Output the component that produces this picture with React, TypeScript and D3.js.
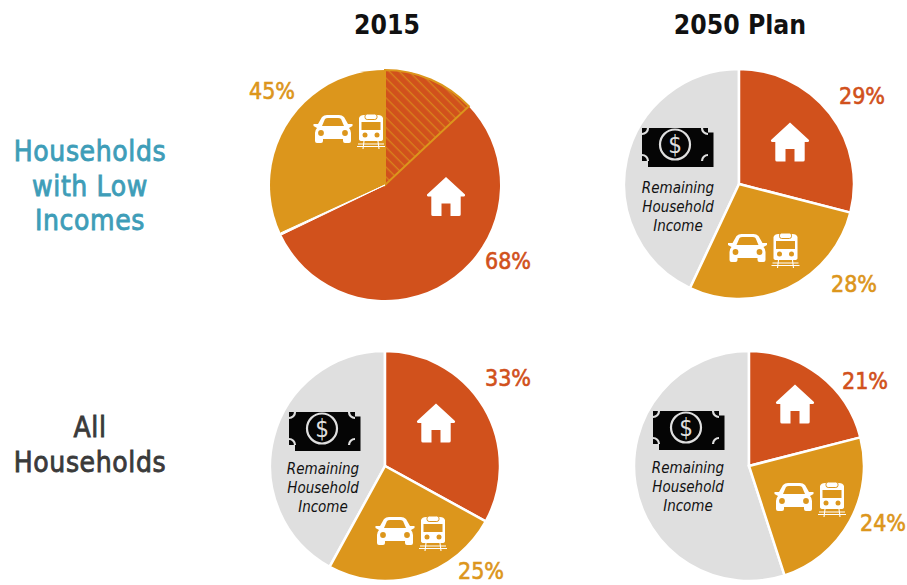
import React from "react";
import * as d3 from "d3";

const W = 907, H = 585;
const RED = "#D1511C", GOLD = "#DC961C", GREY = "#DFDFDF";
const titles = ["2015", "2050 Plan"];
const rowLabels = [["Households", "with Low", "Incomes"], ["All", "Households"]];
const housing = [68, 29, 33, 21];
const transport = [45, 28, 25, 24];
const overlap = [13, 0, 0, 0];
const centerX = [385, 739, 385, 749];
const centerY = [185, 184, 466, 466];
const remainingLines = ["Remaining", "Household", "Income"];
const R = 115;

const Font = "'DejaVu Sans Condensed', 'DejaVu Sans', sans-serif";

const angle = d3.scaleLinear().domain([0, 100]).range([0, 2 * Math.PI]);
const arc = d3.arc<{ a: number; b: number }>()
  .innerRadius(0).outerRadius(R)
  .startAngle(d => angle(d.a)).endAngle(d => angle(d.b));

function House({ x, y }: { x: number; y: number }) {
  return (
    <g transform={`translate(${x},${y})`} fill="#fff">
      <path d="M0,-19.5 L19,-2 Q19.5,0 17,0 L14.7,0 L14.7,18 Q14.7,19.5 13,19.5 L4.5,19.5 L4.5,7 L-4.5,7 L-4.5,19.5 L-13,19.5 Q-14.7,19.5 -14.7,18 L-14.7,0 L-17,0 Q-19.5,0 -19,-2 Z" />
    </g>
  );
}

function CarTrain({ x, y }: { x: number; y: number }) {
  return (
    <g transform={`translate(${x},${y})`}>
      <path fill="#fff" d="M-19.5,-5 L-15,-5 L-11,-12 Q-9,-14 -6,-14 L6,-14 Q9,-14 11,-12 L15,-5 L19.5,-5 L19.5,-3 L16,-1 Q18,1 18,4 L18,12 Q18,14 16,14 L12,14 Q10,14 10,12 L10,10 L-10,10 L-10,12 Q-10,14 -12,14 L-16,14 Q-18,14 -18,12 L-18,4 Q-18,1 -16,-1 L-19.5,-3 Z" />
      <path fill={GOLD} d="M-11,-3 L-8,-10 Q-7,-11 -5,-11 L5,-11 Q7,-11 8,-10 L11,-3 Z" />
      <circle cx={-12} cy={4} r={2.9} fill={GOLD} />
      <circle cx={12} cy={4} r={2.9} fill={GOLD} />
      <path fill="#fff" d="M26,-11 Q27,-14 31,-14 L45,-14 Q49,-14 50,-11 L50,10 Q50,12 47,12 L29,12 Q26,12 26,10 Z" />
      <rect x={32} y={-15} width={12} height={5.5} rx={2.2} fill="#fff" stroke={GOLD} strokeWidth={1} />
      <rect x={28.5} y={-7} width={19} height={8} fill={GOLD} />
      <circle cx={32} cy={6} r={2.5} fill={GOLD} />
      <circle cx={44} cy={6} r={2.5} fill={GOLD} />
      <path stroke="#fff" strokeWidth={1.1} d="M25,15 L51,15 M24,17.5 L52,17.5 M31,12 L30,20 M45,12 L46,20" fill="none" />
    </g>
  );
}

function Money({ x, y }: { x: number; y: number }) {
  return (
    <g transform={`translate(${x},${y})`}>
      <path fill="#050505" d="M-27,17 L33,17 L33,-11.5 L38.5,-11.5 L38.5,23 L-27,23 Z" />
      <rect x={-33} y={-16} width={66} height={33} fill="#050505" />
      <path fill="none" stroke={GREY} strokeWidth={2.2} d="M-33,-10 A6,6 0 0 0 -27,-16 M33,-10 A6,6 0 0 1 27,-16 M-33,11 A6,6 0 0 1 -27,17 M33,11 A6,6 0 0 0 27,17" />
      <circle cx={0} cy={0.5} r={15} fill="none" stroke={GREY} strokeWidth={2.2} />
      <text x={0} y={9} textAnchor="middle" fill={GREY} fontSize={24} fontFamily={Font}>$</text>
    </g>
  );
}

const labelPos = [
  [[508, 261], [272, 91]],
  [[862, 96], [854, 284]],
  [[508, 378], [481, 571]],
  [[865, 381], [883, 523]],
];
const housePos = [[446, 196.5], [790, 142], [436, 423], [795, 404]];
const carPos = [[333, 129], [747.5, 248], [395, 531], [794, 497]];
const moneyFor = [null, [675, 144], [322, 428], [686, 427]];
const textFor = [null, [678, 188], [323, 469], [688, 468]];

export default function App() {
  const rowText = (t: string, i: number, y0: number, c: string) => (
    <text key={t} x={90} y={y0 + i * 34.5} textAnchor="middle" fontFamily={Font} fontSize={28} letterSpacing={0.6} style={{ fill: c, stroke: c, strokeWidth: 0.8 }}>{t}</text>
  );
  return (
    <svg width={W} height={H} viewBox={`0 0 ${W} ${H}`} style={{ position: "absolute", left: 0, top: 0, background: "#fff" }}>
      <defs>
        <pattern id="hatch" patternUnits="userSpaceOnUse" width={7} height={7} patternTransform="rotate(45)">
          <rect width={7} height={7} fill={RED} />
          <rect width={7} height={1.3} fill={GOLD} opacity={0.7} />
        </pattern>
      </defs>
      <text x={387} y={34} textAnchor="middle" fontFamily={Font} fontWeight={700} fontSize={26.3} fill="#111">{titles[0]}</text>
      <text x={740} y={34} textAnchor="middle" fontFamily={Font} fontWeight={700} fontSize={26.3} fill="#111">{titles[1]}</text>
      {rowLabels[0].map((t, i) => rowText(t, i, 161, "#3E9DB8"))}
      {rowLabels[1].map((t, i) => rowText(t, i, 437, "#3A3A3A"))}
      {housing.map((h, i) => {
        const t = transport[i], ov = overlap[i];
        const goldStart = h, goldEnd = h + t;
        return (
          <g key={i}>
            <g transform={`translate(${centerX[i]},${centerY[i]})`}>
              {goldEnd < 100 && <path d={arc({ a: goldEnd, b: 100 })!} fill={GREY} stroke="#fff" strokeWidth={2.5} />}
              <path d={arc({ a: 0, b: h })!} fill={RED} stroke="#fff" strokeWidth={ov ? 0 : 2.5} />
              <path d={arc({ a: goldStart, b: goldEnd })!} fill={GOLD} stroke="#fff" strokeWidth={ov ? 0 : 2.5} />
              {ov > 0 && <path d={arc({ a: 0, b: ov })!} fill="url(#hatch)" stroke={GOLD} strokeWidth={2} />}
              {ov > 0 && <path d={arc({ a: goldStart - 0.15, b: goldStart + 0.15 })!} fill="#fff" stroke="#fff" strokeWidth={1} />}
            </g>
            <House x={housePos[i][0]} y={housePos[i][1]} />
            <CarTrain x={carPos[i][0]} y={carPos[i][1]} />
            {moneyFor[i] && <Money x={moneyFor[i]![0]} y={moneyFor[i]![1]} />}
            {textFor[i] && remainingLines.map((l, k) => (
              <text key={l} x={textFor[i]![0]} y={textFor[i]![1] + 5 + k * 19} textAnchor="middle" fontFamily={Font} fontStyle="italic" fontSize={15} fill="#111">{l}</text>
            ))}
            <text x={labelPos[i][0][0]} y={labelPos[i][0][1] + 8} textAnchor="middle" fontFamily={Font} fontSize={23} style={{ fill: RED, stroke: RED, strokeWidth: 0.6 }}>{h}%</text>
            <text x={labelPos[i][1][0]} y={labelPos[i][1][1] + 8} textAnchor="middle" fontFamily={Font} fontSize={23} style={{ fill: GOLD, stroke: GOLD, strokeWidth: 0.6 }}>{t}%</text>
          </g>
        );
      })}
    </svg>
  );
}
